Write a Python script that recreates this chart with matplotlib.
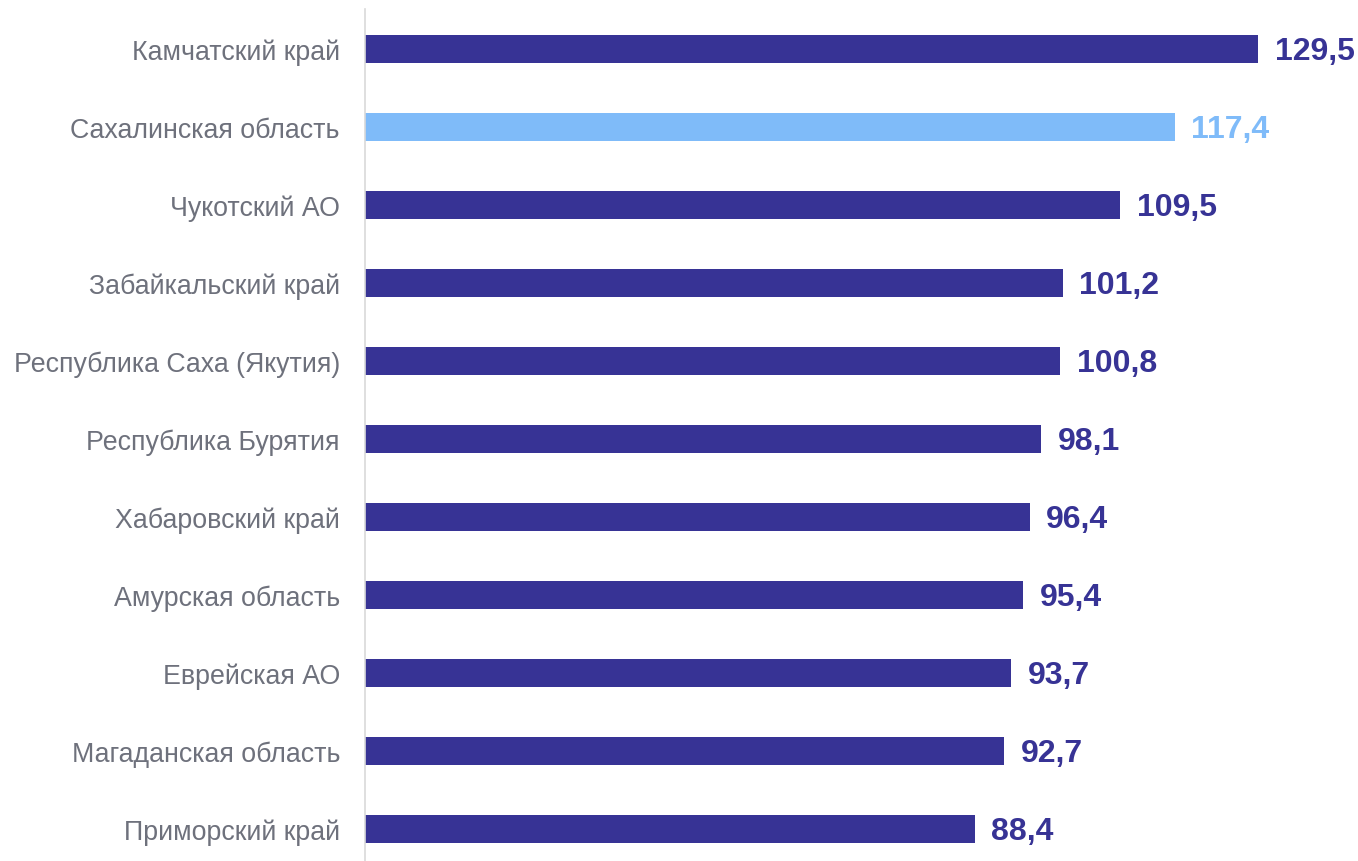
import matplotlib
matplotlib.use("Agg")
import matplotlib.pyplot as plt

regions = [
    "Камчатский край",
    "Сахалинская область",
    "Чукотский АО",
    "Забайкальский край",
    "Республика Саха (Якутия)",
    "Республика Бурятия",
    "Хабаровский край",
    "Амурская область",
    "Еврейская АО",
    "Магаданская область",
    "Приморский край",
]
values = [129.5, 117.4, 109.5, 101.2, 100.8, 98.1, 96.4, 95.4, 93.7, 92.7, 88.4]
highlight = "Сахалинская область"

dark = "#373395"
light = "#7FBBF9"

plt.rcParams["font.family"] = ["Liberation Sans", "DejaVu Sans"]

fig = plt.figure(figsize=(13.58, 8.62), dpi=100)
ax = fig.add_axes([365 / 1358, 0, 1 - 365 / 1358, 852 / 862])

colors = [light if r == highlight else dark for r in regions]
pos = list(range(len(regions)))
ax.barh(pos, values, height=0.36, color=colors)

# value labels right of each bar, comma as decimal mark
for y, v, c in zip(pos, values, colors):
    ax.text(v + 2.4, y + 0.02, f"{v:.1f}".replace(".", ","), va="center", ha="left",
            fontsize=23, fontweight="bold", color=c)

ax.set_yticks(pos)
ax.set_yticklabels(regions, fontsize=19.3, color="#6E717C")
ax.tick_params(axis="y", length=0, pad=18)
ax.set_xticks([])
ax.set_xlim(0, 129.5 * 993 / 893)
ax.set_ylim(10.41, -0.513)

for s in ["top", "right", "bottom"]:
    ax.spines[s].set_visible(False)
ax.spines["left"].set_color("#D9D9D9")
ax.spines["left"].set_linewidth(1.2)

fig.savefig("out.png", dpi=100)
